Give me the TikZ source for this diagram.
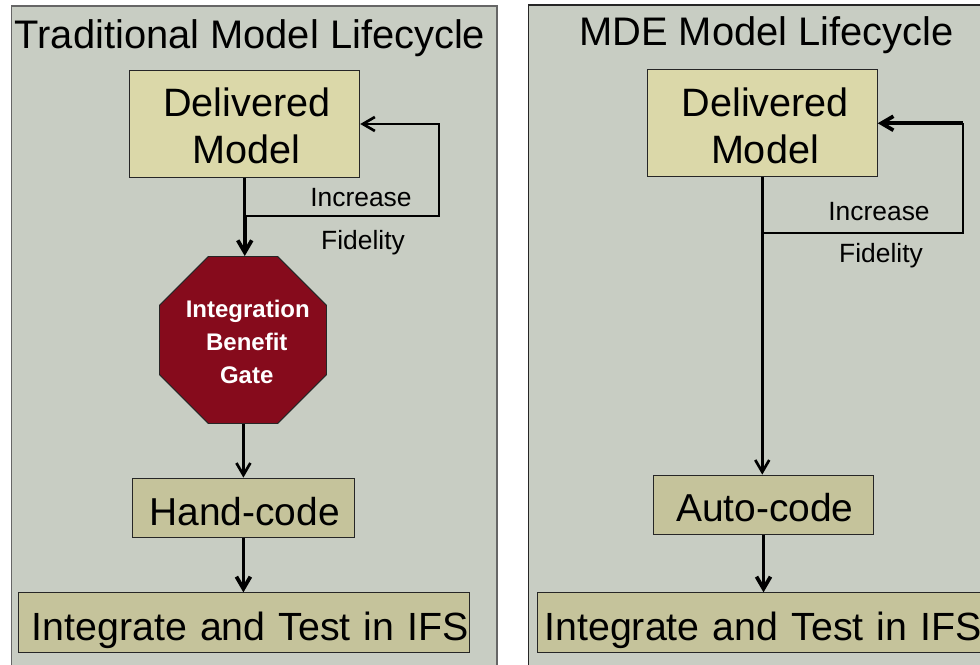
\documentclass[tikz,border=0pt]{standalone}
\usepackage{fontspec}
\setmainfont{Liberation Sans}
\usetikzlibrary{arrows.meta,shapes.geometric}

\definecolor{panelgray}{HTML}{C8CDC3}
\definecolor{modelyellow}{HTML}{DBD8A9}
\definecolor{codekhaki}{HTML}{C5C39B}
\definecolor{gatered}{HTML}{860B1C}

\tikzset{
  panel/.style={line width=0.9pt, fill=panelgray},
  heading/.style={font=\fontsize{29.9}{35}\selectfont},
  textdrop/.style={execute at begin node={\rule{0pt}{#1}}},
  box/.style={draw=black!85, line width=0.7pt, align=center, inner sep=0pt,
    font=\fontsize{29.7}{35.25}\selectfont},
  modelbox/.style={box, fill=modelyellow, minimum width=172.5pt, minimum height=80pt},
  codebox/.style={box, fill=codekhaki, minimum height=44.5pt},
  codeshort/.style={codebox, font=\fontsize{29.2}{34.5}\selectfont},
  testbox/.style={codebox, font=\fontsize{29.5}{35}\selectfont, textdrop=33.5pt},
  stopsign/.style={regular polygon, regular polygon sides=8, draw=black!85, line width=0.7pt,
    fill=gatered, inner sep=0pt, minimum size=135.6pt},
  gatetext/.style={text=white, align=center, inner sep=0pt,
    font=\fontsize{18}{24.75}\selectfont\bfseries},
  note/.style={font=\fontsize{19.8}{24}\selectfont},
  line/.style={draw=black, line width=2pt},
  flow/.style={line, -{Straight Barb[length=9pt,width=10.5pt]}},
  heavy/.style={line width=2.8pt},
}

\begin{document}
\begin{tikzpicture}[x=0.75pt, y=-0.75pt]
  \path[use as bounding box, clip] (0,0) rectangle (980,664);

  % left panel
  \path[panel, draw=black!60] (11.5,6) rectangle (497,680);
  \node[heading] (titleA) at (250,38) {Traditional Model Lifecycle};
  \node[modelbox] (deliveredA) at (244.75,124) {\rule{0pt}{24pt}\hspace*{3pt}Delivered\\\hspace*{3pt}Model};
  \node[stopsign] (gate) at (243,340) {};
  \node[gatetext] (gatelabel) at (246.75,342) {\hspace*{1.5pt}Integration\\Benefit\\Gate};
  \node[codeshort, minimum width=166pt, textdrop=27pt] (handcode) at (243.4,507.75) {\hspace*{2pt}Hand-code};
  \node[testbox, minimum width=338pt, text width=337.4pt, align=right] (testA) at (244,622.5) {Integrate and Test in IFS};
  \node[note] (increaseA) at (361,198) {Increase};
  \node[note] (fidelityA) at (363,243) {Fidelity};
  \coordinate (joinA) at (244.75,216);
  \coordinate (cornerA) at (439,124);
  \coordinate (thickA) at (243.4,565);

  \draw[line] (deliveredA.south) -- (joinA);
  \draw[flow, heavy] (joinA) -- (joinA |- gate.north);
  \draw[flow] (joinA) -| (cornerA) -- (deliveredA.east);
  \draw[flow] (handcode |- gate.south) -- (handcode.north);
  \draw[line] (handcode.south) -- (thickA);
  \draw[flow, heavy] (thickA) -- (thickA |- testA.north);

  % right panel
  \path[panel, draw=black!85] (528.5,5) rectangle (1000,680);
  \node[heading] (titleB) at (766.5,35) {MDE Model Lifecycle};
  \node[modelbox] (deliveredB) at (762.25,123.25) {\rule{0pt}{24.75pt}\hspace*{4.5pt}Delivered\\\hspace*{4pt}Model};
  \node[codeshort, minimum width=165pt, textdrop=25.5pt] (autocode) at (763.5,504.75) {\hspace*{2pt}Auto-code};
  \node[testbox, minimum width=333.4pt, text width=333pt, align=right] (testB) at (759.75,622.5) {Integrate and Test in IFS};
  \node[note] (increaseB) at (879,212) {Increase};
  \node[note] (fidelityB) at (881,256) {Fidelity};
  \coordinate (joinB) at (762.25,233);
  \coordinate (cornerB) at (963,123.25);
  \coordinate (thickB) at (763.5,562);

  \draw[flow] (deliveredB.south) -- (deliveredB.south |- autocode.north);
  \draw[line] (joinB) -| (cornerB);
  \draw[flow, heavy] (cornerB) -- (deliveredB.east);
  \draw[line] (autocode.south) -- (thickB);
  \draw[flow, heavy] (thickB) -- (thickB |- testB.north);
\end{tikzpicture}
\end{document}
